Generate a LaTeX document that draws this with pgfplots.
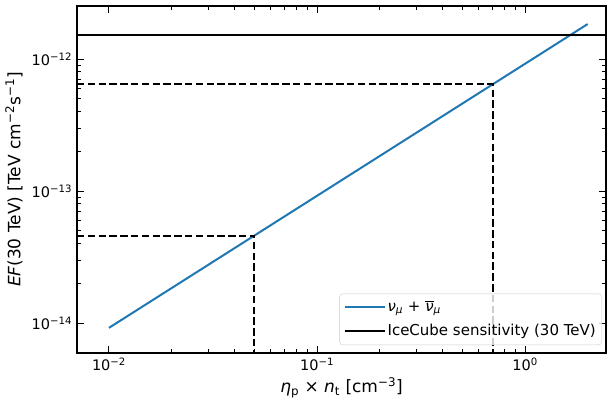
\documentclass[border=0pt]{standalone}
\usepackage{fontspec}
\setmainfont{DejaVu Sans}
\usepackage{pgfplots}
\pgfplotsset{compat=1.18}
\definecolor{mplblue}{HTML}{1F77B4}
\begin{document}
\fontsize{14.5}{17}\selectfont
\begin{tikzpicture}[x=1pt,y=1pt]
\path[use as bounding box] (-77,-48) rectangle (530,353);
\begin{axis}[
  at={(0,0)}, anchor=south west,
  scale only axis, width=529pt, height=347pt,
  xmode=log, ymode=log,
  xmin=0.00702, xmax=2.45,
  ymin=5.93e-15, ymax=2.52e-12,
  tick align=inside,
  major tick length=7pt, minor tick length=4pt,
  every tick/.style={black, line width=1pt},
  axis line style={line width=1.1pt},
  xtick={0.01,0.1,1},
  xticklabels={10\textsuperscript{−2},10\textsuperscript{−1},10\textsuperscript{0}},
  ytick={1e-14,1e-13,1e-12},
  yticklabels={10\textsuperscript{−14},10\textsuperscript{−13},10\textsuperscript{−12}},
  tick label style={font=\fontsize{14.5}{17}\selectfont},
  label style={font=\fontsize{17}{20}\selectfont},
  xlabel={{\itshape η}\textsubscript{p} × {\itshape n}\textsubscript{t} [cm\textsuperscript{−3}]},
  ylabel={{\itshape EF}(30 TeV) [TeV cm\textsuperscript{−2}s\textsuperscript{−1}]},
  xlabel style={yshift=3pt},
  ylabel style={yshift=-1pt},
  legend cell align=left,
  legend style={at={(1,0)}, anchor=south east, xshift=-4pt, yshift=8pt,
    draw=black!20, rounded corners=3pt, fill=white, fill opacity=0.8, text opacity=1,
    font=\fontsize{15}{18}\selectfont, inner xsep=4pt, inner ysep=5pt, row sep=7pt,
    nodes={inner sep=2pt}},
  legend image code/.code={\draw[#1] (0pt,0pt) -- (30pt,0pt); \path (0pt,0pt) -- (40pt,0pt);},
]
\addplot[mplblue, line width=2pt] coordinates {(0.01,9.2e-15) (2.0,1.84e-12)};
\addlegendentry{{\itshape ν}\textsubscript{\itshape μ} + $\overline{\hbox{\itshape ν}}$\textsubscript{\itshape μ}}
\addplot[black, line width=2pt] coordinates {(0.00702,1.52e-12) (2.45,1.52e-12)};
\addlegendentry{IceCube sensitivity (30 TeV)}
\addplot[black, line width=2pt, dash pattern=on 7.5pt off 3.3pt, forget plot] coordinates {(0.00702,6.44e-13) (0.7,6.44e-13) (0.7,5.93e-15)};
\addplot[black, line width=2pt, dash pattern=on 7.5pt off 3.3pt, forget plot] coordinates {(0.00702,4.6e-14) (0.05,4.6e-14) (0.05,5.93e-15)};
\end{axis}
\end{tikzpicture}
\end{document}
